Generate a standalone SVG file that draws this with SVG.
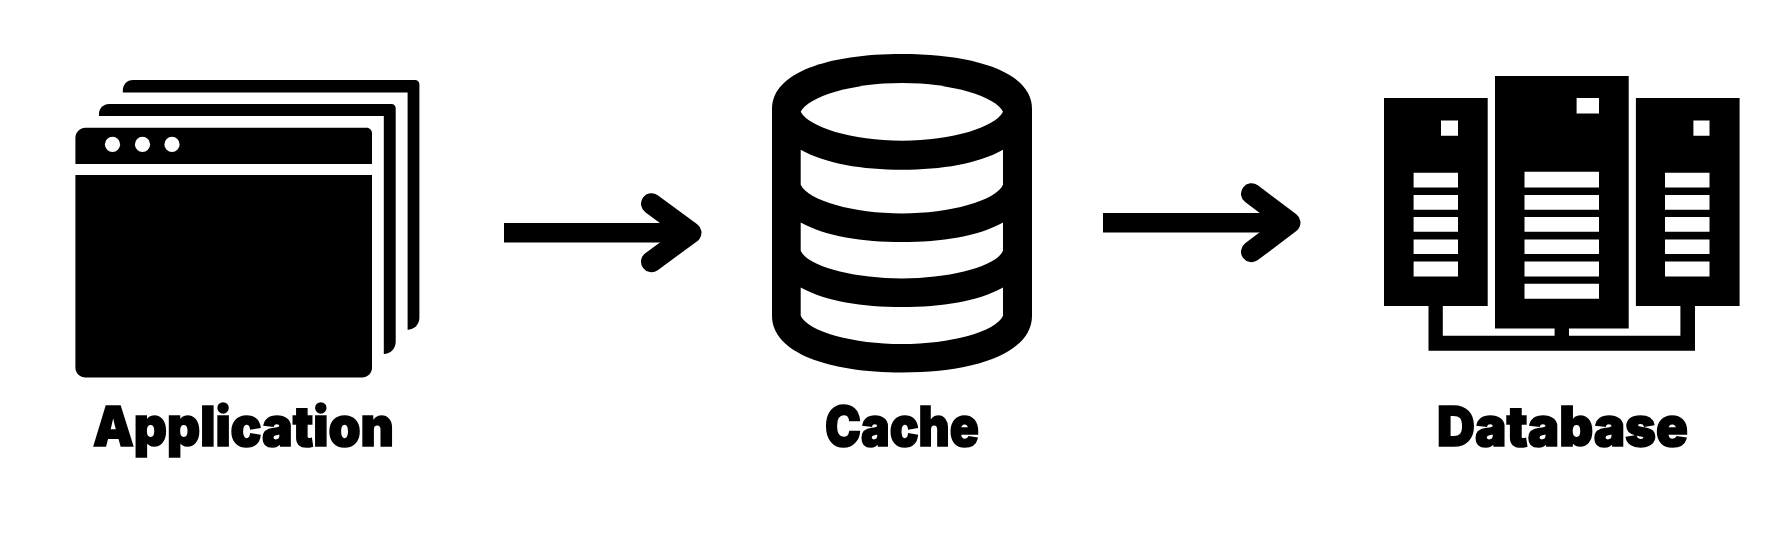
<svg xmlns="http://www.w3.org/2000/svg" width="1784" height="548" viewBox="0 0 1784 548">
<style>
.label{font-family:"Inter","Roboto","Liberation Sans",sans-serif;font-weight:900;font-size:55px;fill:#000;stroke:#000;stroke-width:1.6px;stroke-linejoin:miter}
.w{fill:#fff}
.k{fill:#000}
.conn{fill:none;stroke:#000;stroke-width:19.5}
.head{fill:none;stroke:#000;stroke-width:21;stroke-linecap:round;stroke-linejoin:round}
</style>
<rect width="1784" height="548" fill="#fff"/>
<g id="application" transform="translate(0,0.7)">
<path class="k" d="M122.8,91.7V90C122.8,84 127,79.3 133,79.3H415C417.5,79.3 419.4,81 419.4,83.5V317C419.4,324 414,329 407.6,329V91.7Z"/>
<path class="k" d="M99,115.3V113.5C99,107.5 103.5,103.3 109,103.3H391.5C394,103.3 395.7,105 395.7,107.5V341C395.7,348 390.5,353.3 383.8,353.3V115.3Z"/>
<path class="k" d="M75.4,163.3V137C75.4,131.5 80,127 85.5,127H366.5C369.8,127 372,129.5 372,132.5V163.3Z"/>
<path class="k" d="M75.4,174.3H372V367C372,372.5 367.5,376.7 362,376.7H85.5C80,376.7 75.4,372.5 75.4,367Z"/>
<circle class="w" cx="112.5" cy="143.7" r="7.6"/>
<circle class="w" cx="142.5" cy="143.7" r="7.6"/>
<circle class="w" cx="172" cy="143.7" r="7.6"/>
<text class="label" x="93" y="445.5" textLength="301" lengthAdjust="spacingAndGlyphs">Application</text>
</g>
<g id="cache" transform="translate(0,0.7)">
<path class="k" d="M772,108C772,72 828,53.3 902,53.3C976,53.3 1032,72 1032,108V315C1032,352 976,371.7 902,371.7C828,371.7 772,352 772,315Z"/>
<path class="w" d="M800.7,111C808,126 852,140 902,140C952,140 996,126 1003,111C996,96 952,82.3 902,82.3C852,82.3 808,96 800.7,111Z"/>
<path class="w" d="M800.7,149C826,163 862,169 902,169C942,169 978,163 1003,149V184C996,200 950,212.7 902,212.7C854,212.7 808,200 800.7,184Z"/>
<path class="w" d="M800.7,221.7C826,235.5 862,241.3 902,241.3C942,241.3 978,235.5 1003,221.7V250C996,266 950,277.7 902,277.7C854,277.7 808,266 800.7,250Z"/>
<path class="w" d="M800.7,286.7C826,300.5 862,306.3 902,306.3C942,306.3 978,300.5 1003,286.7V315C996,331 950,343.3 902,343.3C854,343.3 808,331 800.7,315Z"/>
<text class="label" x="825" y="445.5" textLength="154" lengthAdjust="spacingAndGlyphs">Cache</text>
</g>
<g id="database" transform="translate(0,0.7)">
<path class="k" d="M1384,97.3H1487.7V305.3H1442.8V335H1554.6V327.7H1495V75.3H1628.7V327.7H1569V335H1680.4V305.3H1635.9V97.3H1739.6V305.3H1695V350H1428.5V305.3H1384Z"/>
<path class="w" d="M1441,119.7H1458V135H1441ZM1576.6,97.3H1599V112.7H1576.6ZM1693.4,119.7H1709.5V135H1693.4Z"/>
<path class="w" d="M1413.6,172H1458V186.7H1413.6ZM1413.6,194.3H1458V209H1413.6ZM1413.6,216.3H1458V231H1413.6ZM1413.6,238.7H1458V253.3H1413.6ZM1413.6,260.7H1458V275.7H1413.6Z"/>
<path class="w" d="M1524.5,171H1599V186.7H1524.5ZM1524.5,194.3H1599V209H1524.5ZM1524.5,216.3H1599V231H1524.5ZM1524.5,238.7H1599V253.3H1524.5ZM1524.5,260.7H1599V275.7H1524.5ZM1524.5,283H1599V298H1524.5Z"/>
<path class="w" d="M1665,172H1709.5V186.7H1665ZM1665,194.3H1709.5V209H1665ZM1665,216.3H1709.5V231H1665ZM1665,238.7H1709.5V253.3H1665ZM1665,260.7H1709.5V275.7H1665Z"/>
<text class="label" x="1437" y="445.5" textLength="251" lengthAdjust="spacingAndGlyphs">Database</text>
</g>
<g id="connectors" transform="translate(0,0.7)">
<path class="conn" d="M504,232H691"/>
<path class="head" d="M651.5,203L691,232L651.5,261"/>
<path class="conn" d="M1103,222H1290"/>
<path class="head" d="M1251.5,193L1290,222L1251.5,251"/>
</g>
</svg>
